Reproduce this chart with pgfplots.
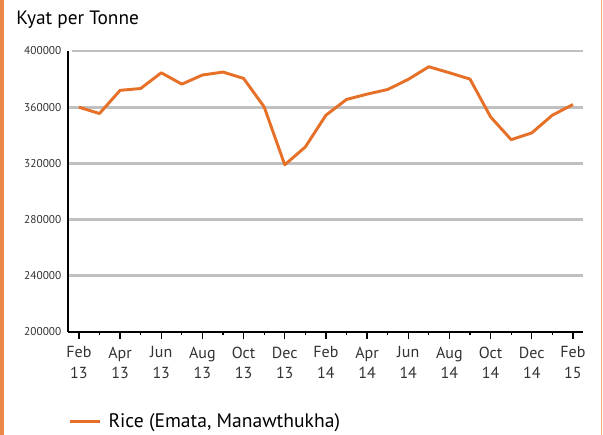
\documentclass[border=0pt]{standalone}
\usepackage{pgfplots}
\pgfplotsset{compat=1.18}
\usepackage{fontspec}
\setmainfont{PT Sans}
\definecolor{riceorange}{RGB}{230,112,40}
\definecolor{frameorange}{RGB}{238,136,74}
\definecolor{gridgray}{RGB}{192,192,192}
\definecolor{ticktext}{RGB}{50,50,50}
\begin{document}
\begin{tikzpicture}[x=0.75pt,y=0.75pt]
\useasboundingbox (-68,-103) rectangle (535,332);
\fill[frameorange] (-68,-103) rectangle (-64,332);
\draw[frameorange!70, line width=0.75pt] (533.5,-103) -- (533.5,332);
\begin{axis}[
  at={(0,0)}, anchor=south west,
  scale only axis,
  width=386.25pt, height=210.75pt,
  xmin=-0.53, xmax=24.49,
  ymin=200000, ymax=400000,
  axis x line*=bottom, axis y line*=left,
  axis line style={-, black, line width=1.1pt},
  xtick={0,2,...,24},
  minor xtick={1,3,...,23},
  xticklabels={{Feb\\13},{Apr\\13},{Jun\\13},{Aug\\13},{Oct\\13},{Dec\\13},{Feb\\14},{Apr\\14},{Jun\\14},{Aug\\14},{Oct\\14},{Dec\\14},{Feb\\15}},
  x tick label style={align=center, font=\fontsize{12}{15.5}\selectfont, text=ticktext, yshift=-2.5pt},
  xtick style={black, line width=0.9pt},
  minor tick style={black, line width=0.9pt},
  major tick length=5pt, minor tick length=2.5pt,
  xtick pos=bottom, tick align=outside,
  ytick={200000,240000,...,400000},
  yticklabels={200000,240000,280000,320000,360000,400000},
  y tick label style={font=\fontsize{8.5}{10}\selectfont, text=ticktext, xshift=3.5pt},
  ytick style={draw=none},
  ymajorgrids,
  major grid style={gridgray, line width=2.2pt, shorten <=3pt},
  scaled y ticks=false,
  clip=false,
  legend style={at={(0,-0.32)}, anchor=west, draw=none, fill=none, inner sep=0pt,
    font=\fontsize{14.7}{17}\selectfont, text=black, legend cell align=left},
  legend image code/.code={\draw[#1] (0pt,0pt) -- (22.5pt,0pt);},
]
\addplot[riceorange, line width=2.2pt, line join=round] coordinates {
(0,360000) (1,355500) (2,372000) (3,373300) (4,384500) (5,376400)
(6,382900) (7,385000) (8,380500) (9,360200) (10,319000) (11,331700)
(12,354300) (13,365500) (14,369300) (15,372600) (16,379800) (17,388800)
(18,384500) (19,380000) (20,353100) (21,336900) (22,341700) (23,354300)
(24,361900)
};
\addlegendentry{\hspace{3.5pt}Rice (Emata, Manawthukha)}
\end{axis}
\node[anchor=base west, inner sep=0pt, font=\fontsize{14.5}{17}\selectfont] at (-52,307) {Kyat per Tonne};
\end{tikzpicture}
\end{document}
